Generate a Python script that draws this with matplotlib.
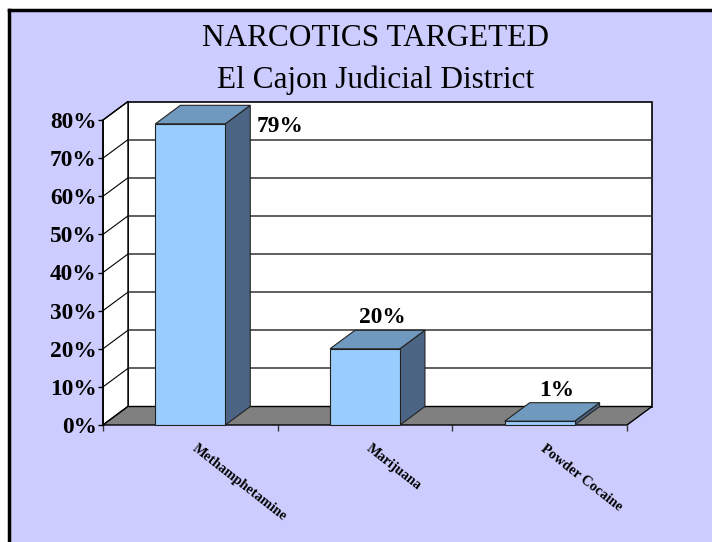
import matplotlib
matplotlib.use('Agg')
import matplotlib.pyplot as plt
from matplotlib.patches import Rectangle, Polygon
from matplotlib.lines import Line2D

plt.rcParams['font.family'] = ['Liberation Serif', 'DejaVu Serif']

# 데이터
categories = ['Methamphetamine', 'Marijuana', 'Powder Cocaine']
values = [79, 20, 1]
value_labels = ['79%', '20%', '1%']
yticks = [0, 10, 20, 30, 40, 50, 60, 70, 80]
ytick_labels = ['0%', '10%', '20%', '30%', '40%', '50%', '60%', '70%', '80%']
title_lines = ['NARCOTICS TARGETED', 'El Cajon Judicial District']

# 색상
BG = '#CCCCFF'
FRONT = '#99CCFF'
TOP = '#7099BF'
SIDE = '#4D6585'
FLOOR = '#808080'

W, H = 712, 542
fig = plt.figure(figsize=(W / 100, H / 100), dpi=100)
fig.patch.set_facecolor('white')

# 배경 + 왼쪽/위 테두리
fig.patches.append(Rectangle((9 / W, 0), 1 - 9 / W, (H - 10) / H, transform=fig.transFigure,
                             facecolor=BG, edgecolor='none', zorder=-10))
fig.lines.append(Line2D([9 / W, 9 / W], [0, (H - 10) / H], transform=fig.transFigure,
                        color='black', lw=2.5, zorder=-9))
fig.lines.append(Line2D([9 / W, 1], [(H - 10) / H, (H - 10) / H], transform=fig.transFigure,
                        color='black', lw=2.5, zorder=-9))

# 제목
fig.text(375 / W, 1 - 46 / H, title_lines[0], ha='center', va='baseline', fontsize=22.5)
fig.text(376 / W, 1 - 88 / H, title_lines[1], ha='center', va='baseline', fontsize=22.5)

ax = fig.add_axes([103 / W, (H - 425) / H, 524 / W, 305 / H])
ax.set_zorder(1)
ax.set_xlim(0, len(categories))
ax.set_ylim(0, 80)
ax.patch.set_visible(False)
for s in ['top', 'right', 'bottom']:
    ax.spines[s].set_visible(False)
ax.spines['left'].set_linewidth(1.2)
ax.spines['left'].set_zorder(5)

# 깊이 (데이터 단위)
DX = 25 / (524 / 3)
DY = 18.5 / (305 / 80)
n = len(categories)
ymax = 80

# 뒷벽, 옆벽, 바닥
ax.add_patch(Rectangle((DX, DY), n, ymax, facecolor='white', edgecolor='black', lw=1.2, zorder=1, clip_on=False))
ax.add_patch(Polygon([(0, 0), (DX, DY), (DX, ymax + DY), (0, ymax)], closed=True,
                     facecolor='white', edgecolor='black', lw=1, zorder=1, clip_on=False))
for v in yticks[1:-1]:
    ax.plot([DX, n + DX], [v + DY, v + DY], color='#333333', lw=1.1, zorder=2, clip_on=False)
for v in yticks:
    ax.plot([0, DX], [v, v + DY], color='black', lw=0.8, zorder=2, clip_on=False)
ax.add_patch(Polygon([(0, 0), (n, 0), (n + DX, DY), (DX, DY)], closed=True,
                     facecolor=FLOOR, edgecolor='black', lw=1, zorder=3, clip_on=False))

# 막대
bw = 0.4
for i, v in enumerate(values):
    x0 = i + 0.5 - bw / 2
    ax.add_patch(Polygon([(x0 + bw, 0), (x0 + bw + DX, DY), (x0 + bw + DX, v + DY), (x0 + bw, v)], closed=True,
                         facecolor=SIDE, edgecolor='#222222', lw=0.8, zorder=4, clip_on=False))
    ax.add_patch(Polygon([(x0, v), (x0 + bw, v), (x0 + bw + DX, v + DY), (x0 + DX, v + DY)], closed=True,
                         facecolor=TOP, edgecolor='#222222', lw=0.8, zorder=4, clip_on=False))
    ax.add_patch(Rectangle((x0, 0), bw, v, facecolor=FRONT, edgecolor='#222222', lw=0.8, zorder=4, clip_on=False))
    if v > 70:
        # 위쪽 공간이 없으면 막대 오른쪽에 표시
        ax.text(x0 + bw + DX + 0.035, v - 0.8, value_labels[i], ha='left', va='center',
                fontsize=16.8, fontweight='bold', zorder=6)
    else:
        ax.text(i + 0.5 + DX * 0.7, v + DY + 0.5, value_labels[i], ha='center', va='bottom',
                fontsize=16.8, fontweight='bold', zorder=6)

# 축 눈금
ax.set_yticks(yticks)
ax.set_yticklabels(ytick_labels, fontsize=16.8, fontweight='bold')
ax.tick_params(axis='y', direction='out', length=3.5, width=1, pad=1)

ax.set_xticks(range(n + 1))
ax.set_xticklabels([''] * (n + 1))
ax.tick_params(axis='x', which='major', direction='out', length=4.5, width=1, color='#333333')
ax.set_xticks([i + 0.5 + 0.04 for i in range(n)], minor=True)
ax.set_xticklabels(categories, minor=True, fontsize=10.3, fontweight='bold',
                   rotation=-38, ha='left', va='top', rotation_mode='anchor')
ax.tick_params(axis='x', which='minor', length=0, pad=12)

plt.savefig('out.png', dpi=100, facecolor=fig.get_facecolor())
